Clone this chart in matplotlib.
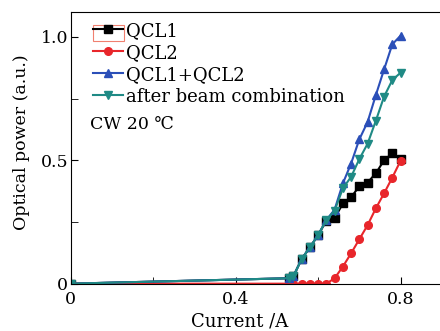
import matplotlib
matplotlib.use("Agg")
import matplotlib.pyplot as plt
from matplotlib import ticker
from matplotlib.patches import Rectangle

plt.rcParams['font.family'] = ['DejaVu Serif']

# current (A) and optical power (a.u.)
current = [0, 0.53, 0.54, 0.56, 0.58, 0.60, 0.62, 0.64, 0.66, 0.68,
           0.70, 0.72, 0.74, 0.76, 0.78, 0.80]
qcl1 = [0, 0.022, 0.030, 0.100, 0.147, 0.197, 0.255, 0.265, 0.325, 0.350,
        0.395, 0.410, 0.447, 0.500, 0.528, 0.505]
qcl2 = [0, 0, 0, 0, 0, 0, 0, 0.022, 0.069, 0.123,
        0.180, 0.237, 0.305, 0.366, 0.430, 0.498]
qcl_sum = [0, 0.022, 0.030, 0.100, 0.147, 0.197, 0.258, 0.300, 0.406, 0.487,
           0.585, 0.655, 0.764, 0.868, 0.970, 1.005]
combined = [0, 0.022, 0.030, 0.100, 0.147, 0.197, 0.258, 0.296, 0.386, 0.433,
            0.505, 0.567, 0.660, 0.758, 0.825, 0.855]

fig = plt.figure(figsize=(4.4, 3.31), dpi=100)
ax = fig.add_axes([0.161, 0.143, 0.843, 0.82])

ax.plot(current, qcl1, '-s', color='black', lw=1.5, ms=5.5, label='QCL1')
ax.plot(current, qcl2, '-o', color='#e8262b', lw=1.5, ms=5.5, label='QCL2')
ax.plot(current, qcl_sum, '-^', color='#2b4fb8', lw=1.5, ms=6, label='QCL1+QCL2')
ax.plot(current, combined, '-v', color='#1f8a85', lw=1.5, ms=6,
        label='after beam combination')

ax.set_xlim(0, 0.9)
ax.set_ylim(0, 1.1)
ax.xaxis.set_major_locator(ticker.MultipleLocator(0.4))
ax.xaxis.set_minor_locator(ticker.MultipleLocator(0.2))
ax.yaxis.set_major_locator(ticker.MultipleLocator(0.5))
ax.yaxis.set_minor_locator(ticker.MultipleLocator(0.25))
fmt = ticker.FuncFormatter(lambda v, p: '0' if v == 0 else '%.1f' % v)
ax.xaxis.set_major_formatter(fmt)
ax.yaxis.set_major_formatter(fmt)
ax.tick_params(which='both', direction='in', labelsize=12.5, length=5)
ax.tick_params(axis='x', which='both', pad=5)
ax.tick_params(axis='y', which='both', pad=2)

ax.set_xlabel('Current /A', fontsize=13, labelpad=4)
ax.set_ylabel('Optical power (a.u.)', fontsize=12.5, labelpad=5)
ax.xaxis.set_label_coords(0.455, -0.108)
ax.yaxis.set_label_coords(-0.11, 0.52)

leg = ax.legend(loc='upper left', frameon=False, fontsize=13, handlelength=1.65,
                handletextpad=0.2, labelspacing=0.22, borderaxespad=0,
                borderpad=0, bbox_to_anchor=(0.059, 0.965))
ax.text(0.051, 0.585, 'CW 20 \u2103', transform=ax.transAxes, fontsize=12.5,
        va='center', ha='left')

# thin red box around the first legend handle, as in the original
ax.add_patch(Rectangle((0.059, 0.895), 0.084, 0.058, transform=ax.transAxes,
                       fill=False, ec='#f08070', lw=0.8))

fig.savefig('out.png', dpi=100)
